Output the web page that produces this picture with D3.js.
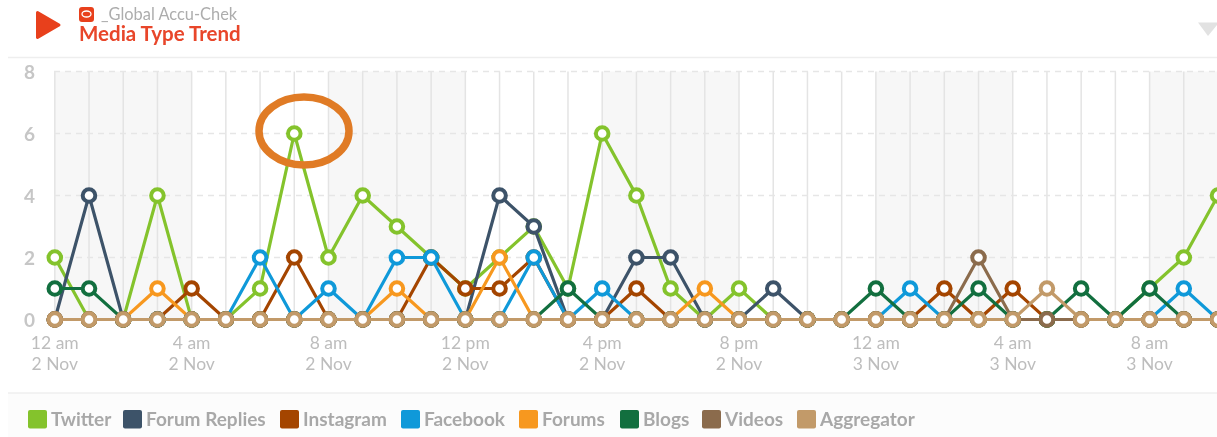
<!DOCTYPE html>
<html><head><meta charset="utf-8">
<script src="https://cdn.jsdelivr.net/npm/d3@7/dist/d3.min.js"></script>
<style>html,body{margin:0;padding:0;background:#fff;overflow:hidden}svg{display:block;filter:blur(0.4px)}text{font-family:Lato,"Open Sans",sans-serif}</style>
</head><body><svg id="c" width="1217" height="437"></svg>
<script>
const hours = d3.range(35);
const yTicks = [0,2,4,6,8];
const tickHours = [0,4,8,12,16,20,24,28,32];
const tickLine1 = ["12 am","4 am","8 am","12 pm","4 pm","8 pm","12 am","4 am","8 am"];
const tickLine2 = ["2 Nov","2 Nov","2 Nov","2 Nov","2 Nov","2 Nov","3 Nov","3 Nov","3 Nov"];
const shadedBands = [[0,4],[8,12],[16,20],[24,28],[32,34]];
const twitter     = [2,0,0,4,0,0,1,6,2,4,3,2,1,2,3,1,6,4,1,0,1,0,0,0,0,0,0,0,0,0,0,0,1,2,4];
const forumReplies= [0,4,0,0,0,0,0,0,0,0,0,0,0,4,3,0,0,2,2,0,0,1,0,0,0,0,0,0,0,0,0,0,0,0,0];
const instagram   = [0,0,0,0,1,0,0,2,0,0,0,2,1,1,2,0,0,1,0,0,0,0,0,0,0,0,1,0,1,0,0,0,0,0,0];
const facebook    = [0,0,0,0,0,0,2,0,1,0,2,2,0,0,2,0,1,0,0,0,0,0,0,0,0,1,0,0,0,0,0,0,0,1,0];
const forums      = [0,0,0,1,0,0,0,0,0,0,1,0,0,2,0,0,0,0,0,1,0,0,0,0,0,0,0,0,0,0,0,0,0,0,0];
const blogs       = [1,1,0,0,0,0,0,0,0,0,0,0,0,0,0,1,0,0,0,0,0,0,0,0,1,0,0,1,0,0,1,0,1,0,0];
const videos      = [0,0,0,0,0,0,0,0,0,0,0,0,0,0,0,0,0,0,0,0,0,0,0,0,0,0,0,2,0,0,0,0,0,0,0];
const aggregator  = [0,0,0,0,0,0,0,0,0,0,0,0,0,0,0,0,0,0,0,0,0,0,0,0,0,0,0,0,0,1,0,0,0,0,0];
const seriesNames = ["Twitter","Forum Replies","Instagram","Facebook","Forums","Blogs","Videos","Aggregator"];
const seriesValues= [twitter,forumReplies,instagram,facebook,forums,blogs,videos,aggregator];
const seriesColors= ["#84c32c","#3d5369","#a44500","#0f99d9","#f7981f","#126f3f","#8b6b4c","#c29a69"];

const svg = d3.select("#c");
const x = d3.scaleLinear().domain([0,34]).range([54.8,1218]);
const y = d3.scaleLinear().domain([0,8]).range([319.5,71.5]);

// header
svg.append("path").attr("d","M37.5 12.5 L59 25 L37.5 37.5 Z").attr("fill","#e8401c").attr("stroke","#e8401c").attr("stroke-width",3).attr("stroke-linejoin","round");
svg.append("rect").attr("x",79).attr("y",7).attr("width",15).attr("height",15).attr("rx",3).attr("fill","#e8401c");
svg.append("ellipse").attr("cx",86.5).attr("cy",14).attr("rx",4.5).attr("ry",3).attr("fill","none").attr("stroke","#fff").attr("stroke-width",1.3);
svg.append("text").attr("x",101).attr("y",20).attr("font-size",16.4).attr("fill","#adadad").text("_Global Accu-Chek");
svg.append("text").attr("x",79).attr("y",41).attr("font-size",20.5).attr("font-weight",700).attr("fill","#e8462a").text("Media Type Trend");
svg.append("path").attr("d","M1198 22.5 L1217 22.5 L1217 25 L1208 36 Z").attr("fill","#e2e2e2");
svg.append("line").attr("x1",8).attr("x2",1217).attr("y1",57.5).attr("y2",57.5).attr("stroke","#eeeeee").attr("stroke-width",1.5);

// bands and grid
svg.append("g").selectAll("rect").data(shadedBands).join("rect")
  .attr("x",d=>x(d[0])).attr("width",d=>x(d[1])-x(d[0])).attr("y",y(8)).attr("height",y(0)-y(8)).attr("fill","#f7f7f7");
svg.append("g").selectAll("line").data(hours).join("line")
  .attr("x1",d=>x(d)).attr("x2",d=>x(d)).attr("y1",y(8)).attr("y2",y(0)).attr("stroke","#e4e4e4").attr("stroke-width",1.5);
svg.append("g").selectAll("line").data(yTicks).join("line")
  .attr("x1",54).attr("x2",1217).attr("y1",d=>y(d)).attr("y2",d=>y(d)).attr("stroke","#e6e6e6").attr("stroke-width",1.5).attr("stroke-dasharray","6 5");

// axes labels
svg.append("g").selectAll("text").data(yTicks).join("text")
  .attr("x",35).attr("y",d=>y(d)+7).attr("text-anchor","end").attr("font-size",19).attr("font-weight",700).attr("fill","#c6c6c6").text(d=>d);
const xt = svg.append("g").selectAll("g").data(tickHours).join("g");
xt.append("text").attr("x",d=>x(d)).attr("y",349).attr("text-anchor","middle").attr("font-size",17.5).attr("fill","#bdbdbd").text((d,i)=>tickLine1[i]);
xt.append("text").attr("x",d=>x(d)).attr("y",370).attr("text-anchor","middle").attr("font-size",17.5).attr("fill","#bdbdbd").text((d,i)=>tickLine2[i]);

// series
const line = d3.line().x((d,i)=>x(i)).y(d=>y(d));
seriesValues.forEach((vals,k)=>{
  const g = svg.append("g");
  g.append("path").attr("d",line(vals)).attr("fill","none").attr("stroke",seriesColors[k]).attr("stroke-width",3.2);
  g.selectAll("circle").data(vals).join("circle").attr("cx",(d,i)=>x(i)).attr("cy",d=>y(d)).attr("r",6.3)
    .attr("fill","#fff").attr("stroke",seriesColors[k]).attr("stroke-width",4);
});

// annotation
svg.append("ellipse").attr("cx",304).attr("cy",131).attr("rx",45).attr("ry",34).attr("fill","none").attr("stroke","#e07b25").attr("stroke-width",7.5);

// legend
svg.append("rect").attr("x",8).attr("y",393).attr("width",1209).attr("height",44).attr("fill","#fcfcfc");
svg.append("line").attr("x1",8).attr("x2",1217).attr("y1",393).attr("y2",393).attr("stroke","#efefef").attr("stroke-width",1.5);
const legendX = [28,123,280,401,519,620,702,797];
const lg = svg.append("g").selectAll("g").data(seriesNames).join("g").attr("transform",(d,i)=>`translate(${legendX[i]},410)`);
lg.append("rect").attr("width",19).attr("height",18.5).attr("rx",2).attr("fill",(d,i)=>seriesColors[i]);
lg.append("text").attr("x",23).attr("y",15.5).attr("font-size",19).attr("font-weight",700).attr("fill","#a8a8a8").text(d=>d);
</script></body></html>
